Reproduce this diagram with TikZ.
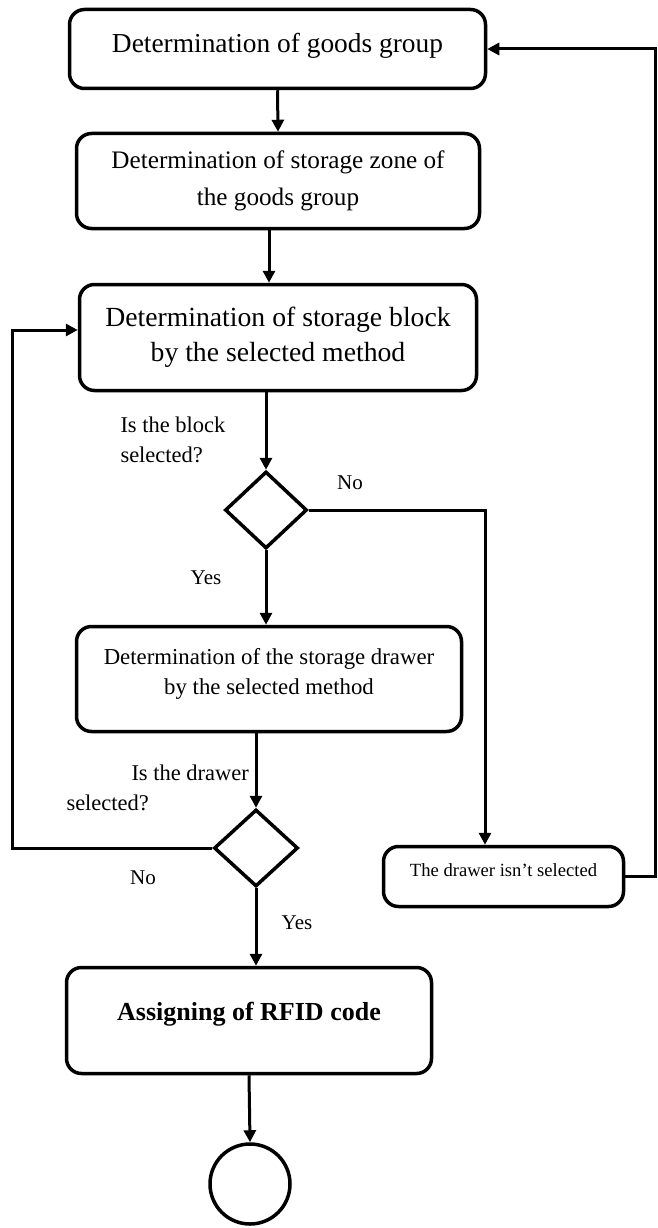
\documentclass[tikz,border=0pt]{standalone}
\usepackage{fontspec}
\setmainfont{Liberation Serif}
\usetikzlibrary{shapes.geometric,arrows.meta}
\tikzstyle{every path}+=[line width=3pt]
\tikzstyle{flow}=[-{Triangle[length=12pt,width=12pt]},line width=3pt]
\tikzstyle{box}=[draw,rectangle,rounded corners=15pt,line width=3.5pt,align=center,inner sep=0pt]
\tikzstyle{test}=[draw,diamond,line width=3.5pt,inner sep=0pt]
\tikzstyle{note}=[inner sep=0pt,font=\fontsize{21pt}{25pt}\selectfont]
\tikzstyle{question}=[inner sep=0pt,align=left,font=\fontsize{22.5pt}{30pt}\selectfont]

\begin{document}
\begin{tikzpicture}[x=1pt,y=-1pt]
\useasboundingbox (0,0) rectangle (657,1228);

\node[box,minimum width=416pt,minimum height=79pt,text depth=12.5pt,font=\fontsize{27.4pt}{33pt}\selectfont] (goods) at (277.5,49) {Determination of goods group};
\node[box,minimum width=403pt,minimum height=95pt,font=\fontsize{25.2pt}{37pt}\selectfont] (zone) at (278,181) {Determination of storage zone of\\the goods group};
\node[box,minimum width=397pt,minimum height=106pt,font=\fontsize{27.7pt}{35pt}\selectfont] (block) at (278,337.5) {Determination of storage block\\by the selected method};
\node[test,minimum width=82pt,minimum height=77pt] (blocksel) at (266,510) {};
\node[box,minimum width=385pt,minimum height=105pt,text depth=16pt,font=\fontsize{22.8pt}{30pt}\selectfont] (drawer) at (269,679) {Determination of the storage drawer\\by the selected method};
\node[test,minimum width=84pt,minimum height=77pt] (drawersel) at (256,848) {};
\node[box,minimum width=240pt,minimum height=60pt,text depth=13.4pt,font=\fontsize{18.6pt}{22pt}\selectfont] (nodrawer) at (503.5,876.5) {The drawer isn't selected};
\node[box,minimum width=365pt,minimum height=106pt,text depth=17.7pt,font=\bfseries\fontsize{26pt}{31pt}\selectfont] (rfid) at (249,1020.5) {Assigning of RFID code};
\node[draw,circle,minimum size=80pt,line width=3.5pt,inner sep=0pt] (stop) at (250,1184) {};

% questions and answers
\node[question,anchor=west] (blockq) at (119,440) {Is the block\\selected?};
\node[question,anchor=west] (drawerq) at (65,787.5) {\hspace*{65pt}Is the drawer\\selected?};
\node[note] (blockno) at (350,483) {No};
\node[note] (blockyes) at (206,578) {Yes};
\node[note] (drawerno) at (143,878) {No};
\node[note] (draweryes) at (297,923) {Yes};

\coordinate (back) at (655,49);
\coordinate (loop) at (12,330);

\draw[flow] (goods.south) -- (zone.north);
\draw[flow] ([xshift=-9pt]zone.south) -- ([xshift=-9pt]zone.south |- block.north);
\draw[flow] (block.south -| blocksel.north) -- (blocksel.north);
\draw[flow] (blocksel.south) -- (blocksel.south |- drawer.north);
\draw[flow] (blocksel.east) -| ([xshift=-18.5pt]nodrawer.north);
\draw[flow] (nodrawer.east) -| (back) -- (goods.east);
\draw[flow] (drawer.south -| drawersel.north) -- (drawersel.north);
\draw[flow] (drawersel.west) -| (loop) -- (loop -| block.west);
\draw[flow] (drawersel.south) -- (drawersel.south |- rfid.north);
\draw[flow] (rfid.south) -- (stop.north);
\end{tikzpicture}
\end{document}
